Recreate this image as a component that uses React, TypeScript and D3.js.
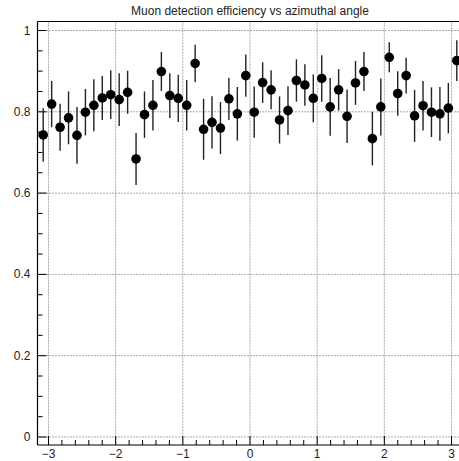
import React from "react";
import * as d3 from "d3";

const title = "Muon detection efficiency vs azimuthal angle";
const efficiency = [
  0.743, 0.819, 0.762, 0.785, 0.742, 0.799, 0.816, 0.834, 0.842, 0.83,
  0.848, 0.684, 0.793, 0.816, 0.899, 0.84, 0.833, 0.816, 0.919, 0.757,
  0.774, 0.76, 0.832, 0.795, 0.889, 0.799, 0.872, 0.854, 0.78, 0.803,
  0.877, 0.866, 0.833, 0.882, 0.812, 0.854, 0.789, 0.871, 0.899, 0.734,
  0.812, 0.934, 0.845, 0.889, 0.79, 0.815, 0.799, 0.795, 0.809, 0.926,
];
const errors = [
  0.066, 0.057, 0.058, 0.065, 0.07, 0.057, 0.064, 0.054, 0.06, 0.065,
  0.053, 0.064, 0.057, 0.062, 0.048, 0.055, 0.058, 0.062, 0.046, 0.075,
  0.064, 0.064, 0.052, 0.066, 0.052, 0.063, 0.05, 0.048, 0.058, 0.06,
  0.052, 0.051, 0.059, 0.057, 0.071, 0.051, 0.066, 0.054, 0.048, 0.066,
  0.07, 0.037, 0.055, 0.044, 0.064, 0.061, 0.061, 0.066, 0.062, 0.05,
];
const xTicks = [-3, -2, -1, 0, 1, 2, 3];
const yTicks = [0, 0.2, 0.4, 0.6, 0.8, 1];

const nBins = efficiency.length;
const binWidth = (2 * Math.PI) / nBins;

export default function App() {
  const W = 459;
  const H = 461;
  const left = 37.5;
  const top = 21.5;
  const bottom = 445;
  const x = d3.scaleLinear().domain([-3, 3]).range([48.5, 451.5]);
  const xMin = x.invert(left);
  const right = x(-xMin);
  const y = d3.scaleLinear().domain([0, 1]).range([437, 30.5]);

  const xMinor = d3.range(-3.2, 3.21, 0.2).filter((v) => x(v) > left && x(v) < right && Math.abs(v - Math.round(v)) > 1e-6);
  const yMinor = d3.range(0, 1.001, 0.05).filter((v) => Math.abs(v * 5 - Math.round(v * 5)) > 1e-6);

  const font = "'Liberation Sans', Arial, sans-serif";
  const fmtX = (v: number) => (v < 0 ? "\u2212" + Math.abs(v) : String(v));

  return (
    <svg width={W} height={H} style={{ position: "absolute", left: 0, top: 0, background: "#fff" }}>
      <rect x={0} y={0} width={W} height={H} fill="#fff" />
      {/* grid */}
      {xTicks.map((t) => (
        <line key={"gx" + t} x1={x(t)} x2={x(t)} y1={top} y2={bottom} stroke="#aaa" strokeWidth={1} strokeDasharray="2,1" />
      ))}
      {yTicks.map((t) => (
        <line key={"gy" + t} x1={left} x2={right} y1={y(t)} y2={y(t)} stroke="#555" strokeWidth={1} strokeDasharray="1,2" />
      ))}
      {/* frame */}
      <line x1={left} x2={left} y1={top} y2={bottom} stroke="#000" strokeWidth={1.2} />
      <line x1={left} x2={right} y1={top} y2={top} stroke="#000" strokeWidth={1.2} />
      <line x1={left} x2={right} y1={bottom} y2={bottom} stroke="#000" strokeWidth={1.2} />
      {/* y ticks */}
      {yTicks.map((t) => (
        <g key={"yt" + t}>
          <line x1={left} x2={left + 9} y1={y(t)} y2={y(t)} stroke="#000" strokeWidth={1} />
          <text x={30.5} y={y(t) + 4} textAnchor="end" fontFamily={font} fontSize={12} fill="#222">
            {String(t)}
          </text>
        </g>
      ))}
      {yMinor.map((t) => (
        <line key={"ym" + t} x1={left} x2={left + 5} y1={y(t)} y2={y(t)} stroke="#000" strokeWidth={1} />
      ))}
      {/* x ticks */}
      {xTicks.map((t) => (
        <g key={"xt" + t}>
          <line x1={x(t)} x2={x(t)} y1={bottom} y2={bottom - 9} stroke="#000" strokeWidth={1} />
          <text x={x(t)} y={457.5} textAnchor="middle" fontFamily={font} fontSize={12} fill="#222">
            {fmtX(t)}
          </text>
        </g>
      ))}
      {xMinor.map((t) => (
        <line key={"xm" + t.toFixed(2)} x1={x(t)} x2={x(t)} y1={bottom} y2={bottom - 5} stroke="#000" strokeWidth={1} />
      ))}
      {/* data */}
      {efficiency.map((v, i) => {
        const cx = x(-Math.PI + (i + 0.5) * binWidth);
        const e = errors[i];
        return (
          <g key={"p" + i}>
            <line x1={cx} x2={cx} y1={y(v - e)} y2={y(v + e)} stroke="#222" strokeWidth={1.4} />
            <circle cx={cx} cy={y(v)} r={4.8} fill="#000" />
          </g>
        );
      })}
      {/* title */}
      <text x={250} y={15} textAnchor="middle" fontFamily={font} fontSize={12} fill="#222">
        {title}
      </text>
    </svg>
  );
}
